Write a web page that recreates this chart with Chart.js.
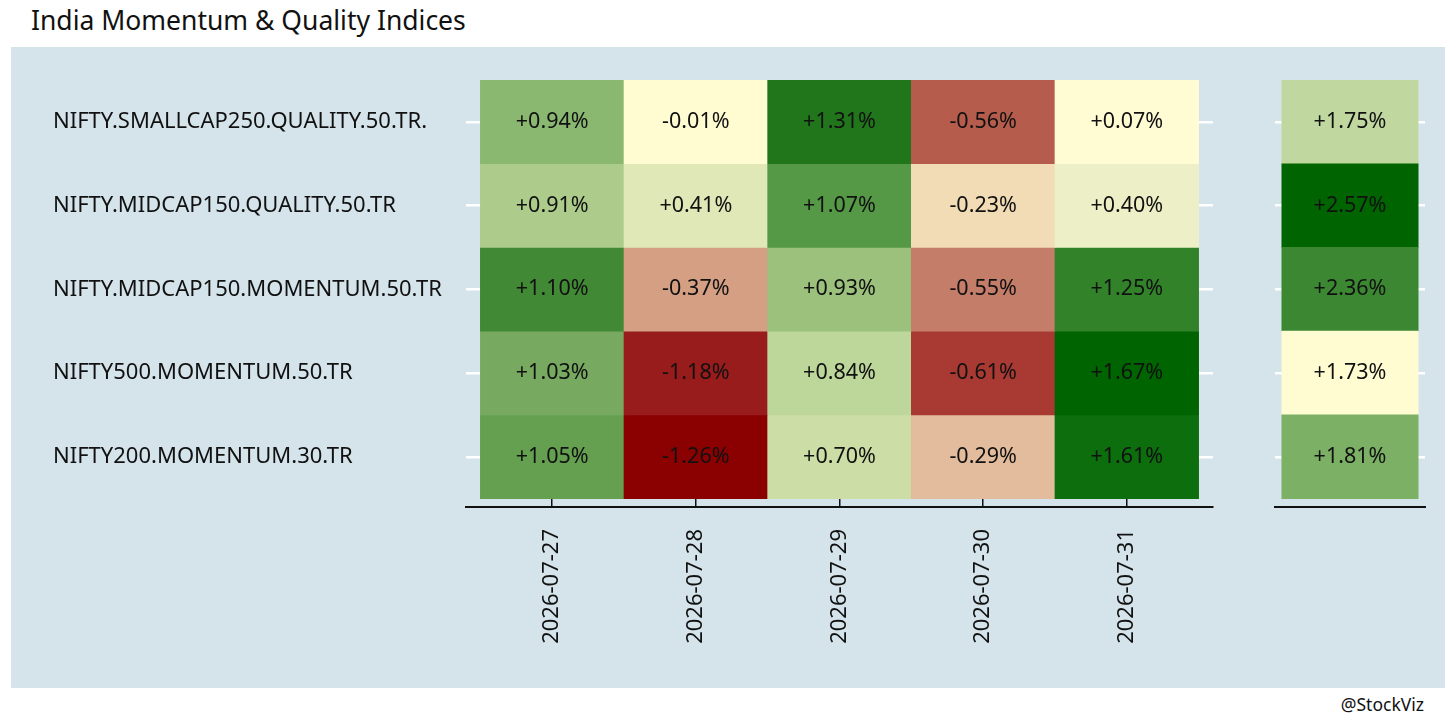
<!DOCTYPE html>
<html>
<head>
<meta charset="utf-8">
<script src="https://cdn.jsdelivr.net/npm/chart.js@4.4.1/dist/chart.umd.min.js"></script>
<style>
  body { margin: 0; width: 1456px; height: 728px; background: #fff; position: relative; overflow: hidden; font-family: "Noto Sans", "Open Sans", sans-serif; }
  #title { position: absolute; left: 31px; top: 2px; font-size: 26.5px; line-height: 1.362; color: #111; white-space: nowrap; }
  #panel { position: absolute; left: 11px; top: 47px; width: 1434px; height: 641px; background: #d5e4eb; }
  #wrapDaily { position: absolute; left: 11px; top: 47px; width: 1234px; height: 641px; }
  #wrapWeek { position: absolute; left: 1245px; top: 47px; width: 200px; height: 641px; }
  #caption { position: absolute; right: 32px; top: 693px; font-size: 17.5px; line-height: 1.362; color: #111; }
</style>
</head>
<body>
<div id="title">India Momentum &amp; Quality Indices</div>
<div id="panel"></div>
<div id="wrapDaily"><canvas id="daily"></canvas></div>
<div id="wrapWeek"><canvas id="week"></canvas></div>
<div id="caption">@StockViz</div>
<script>
var indices = ["NIFTY.SMALLCAP250.QUALITY.50.TR.", "NIFTY.MIDCAP150.QUALITY.50.TR", "NIFTY.MIDCAP150.MOMENTUM.50.TR", "NIFTY500.MOMENTUM.50.TR", "NIFTY200.MOMENTUM.30.TR"];
var dates = ["2026-07-27", "2026-07-28", "2026-07-29", "2026-07-30", "2026-07-31"];

// daily returns (%), one array per index, in the order of dates
var dailyReturns = [
  [0.94, -0.01, 1.31, -0.56, 0.07],
  [0.91, 0.41, 1.07, -0.23, 0.40],
  [1.10, -0.37, 0.93, -0.55, 1.25],
  [1.03, -1.18, 0.84, -0.61, 1.67],
  [1.05, -1.26, 0.70, -0.29, 1.61]
];
// cumulative return over the week (%)
var weekReturns = [1.75, 2.57, 2.36, 1.73, 1.81];

// fill colours
var dailyColors = [
  ["#8ab870", "#fffcd2", "#21761c", "#b55c4c", "#fffbd2"],
  ["#adcc8c", "#dfe8b6", "#559845", "#f2dcb6", "#edf0c6"],
  ["#418934", "#d49f83", "#9bc17c", "#c47d69", "#32822a"],
  ["#77aa60", "#991c1c", "#bdd79b", "#a93a33", "#006400"],
  ["#65a050", "#8b0000", "#ccdea6", "#e2bc9c", "#0d6e0d"]
];
var weekColors = ["#c0d8a0", "#006400", "#3c8732", "#fffcd2", "#7bb065"];

var FONT = "'Noto Sans', 'Open Sans', sans-serif";

function fmt(v) {
  return (v >= 0 ? "+" : "") + v.toFixed(2) + "%";
}

var cellLabels = {
  id: "cellLabels",
  afterDatasetsDraw: function(chart) {
    var ctx = chart.ctx;
    ctx.save();
    ctx.font = "21.5px " + FONT;
    ctx.fillStyle = "#111";
    ctx.textAlign = "center";
    ctx.textBaseline = "middle";
    chart.data.datasets.forEach(function(ds, i) {
      var meta = chart.getDatasetMeta(i);
      meta.data.forEach(function(bar, j) {
        var c = bar.getCenterPoint();
        ctx.fillText(fmt(ds.values[j]), c.x, c.y);
      });
    });
    ctx.restore();
  }
};

function rowAxis(showLabels) {
  return {
    type: "linear",
    reverse: true,
    offset: false,
    min: -0.5,
    max: 4.6,
    afterBuildTicks: function(scale) {
      scale.ticks = indices.map(function(_, i) { return { value: i }; });
    },
    afterFit: function(scale) { scale.width = showLabels ? 413 : 0; },
    grid: { color: "#ffffff", lineWidth: 2.5, drawTicks: false },
    border: { display: false },
    ticks: {
      display: showLabels,
      crossAlign: "far",
      color: "#111",
      font: { family: FONT, size: 22 },
      callback: function(v) { return indices[v]; }
    }
  };
}

var baseOptions = {
  responsive: true,
  maintainAspectRatio: false,
  animation: false,
  plugins: { legend: { display: false }, tooltip: { enabled: false } },
  datasets: { bar: { grouped: false, barPercentage: 1, categoryPercentage: 1, borderWidth: 0 } }
};

new Chart(document.getElementById("daily"), {
  type: "bar",
  data: {
    datasets: dailyReturns.map(function(row, r) {
      return {
        values: row,
        backgroundColor: dailyColors[r],
        data: dates.map(function(d, c) { return { x: c, y: [r - 0.5, r + 0.5] }; })
      };
    })
  },
  options: Object.assign({}, baseOptions, {
    layout: { padding: { left: 42, top: 33, right: 32, bottom: 0 } },
    scales: {
      x: {
        type: "linear",
        offset: false,
        min: -0.6,
        max: 4.6,
        afterBuildTicks: function(scale) {
          scale.ticks = dates.map(function(_, i) { return { value: i }; });
        },
        afterFit: function(scale) { scale.height = 181; },
        grid: { offset: false, color: "#111", lineWidth: 1.5, drawTicks: false },
        border: { display: true, color: "#111", width: 2 },
        ticks: {
          autoSkip: false,
          minRotation: 90,
          maxRotation: 90,
          padding: 22,
          color: "#111",
          font: { family: FONT, size: 22 },
          callback: function(v) { return dates[v]; }
        }
      },
      y: rowAxis(true)
    }
  }),
  plugins: [cellLabels]
});

new Chart(document.getElementById("week"), {
  type: "bar",
  data: {
    datasets: [{
      values: weekReturns,
      backgroundColor: weekColors,
      data: weekReturns.map(function(v, r) { return { x: 0, y: [r - 0.5, r + 0.5] }; })
    }]
  },
  options: Object.assign({}, baseOptions, {
    layout: { padding: { left: 30, top: 33, right: 20, bottom: 0 } },
    scales: {
      x: {
        type: "linear",
        offset: false,
        min: -0.55,
        max: 0.55,
        afterBuildTicks: function(scale) {
          scale.ticks = [{ value: -0.5 }, { value: 0.5 }];
        },
        afterFit: function(scale) { scale.height = 181; },
        grid: { display: false, offset: false },
        border: { display: true, color: "#111", width: 2 },
        ticks: { display: false }
      },
      y: rowAxis(false)
    }
  }),
  plugins: [cellLabels]
});
</script>
</body>
</html>
